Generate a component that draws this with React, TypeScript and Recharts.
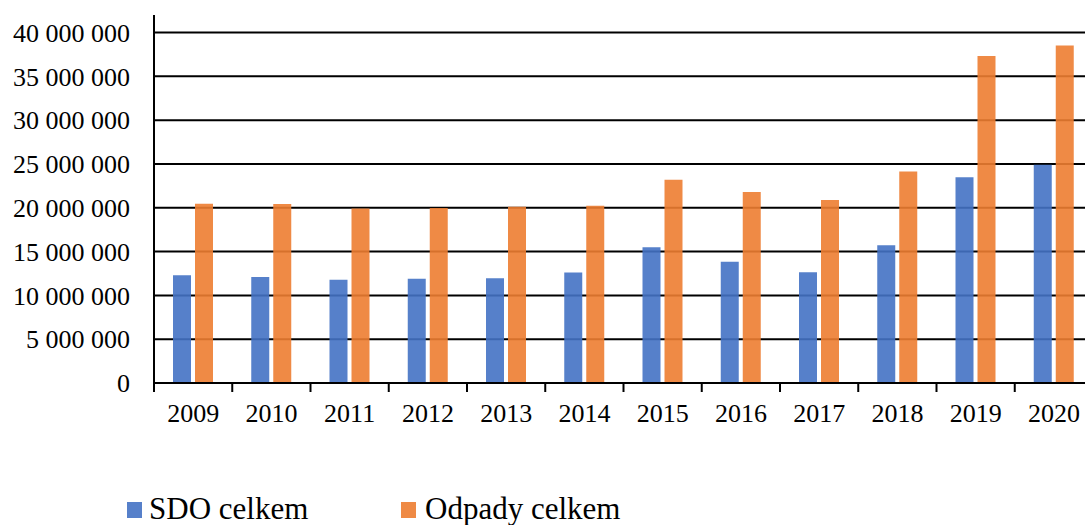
import React from "react";
import {
  BarChart,
  Bar,
  XAxis,
  YAxis,
  CartesianGrid,
  Legend,
} from "recharts";

const years = ["2009", "2010", "2011", "2012", "2013", "2014", "2015", "2016", "2017", "2018", "2019", "2020"];
const sdoCelkem = [12310000, 12110000, 11770000, 11890000, 11960000, 12610000, 15500000, 13830000, 12650000, 15730000, 23470000, 24910000];
const odpadyCelkem = [20460000, 20420000, 19920000, 19960000, 20110000, 20230000, 23200000, 21790000, 20880000, 24150000, 37330000, 38510000];
const yTicks = [0, 5000000, 10000000, 15000000, 20000000, 25000000, 30000000, 35000000, 40000000];

const seriesOrder = ["sdo", "odpady"];
const seriesNames: Record<string, string> = { sdo: "SDO celkem", odpady: "Odpady celkem" };
const colors: Record<string, string> = { sdo: "#4472C4", odpady: "#ED7D31" };

const data = years.map((y, i) => ({ year: y, sdo: sdoCelkem[i], odpady: odpadyCelkem[i] }));

const FONT = "Liberation Serif";

const fmt = (v: number) => String(Math.round(v)).replace(/\B(?=(\d{3})+(?!\d))/g, " ");

// Category tick: label plus boundary tick marks at the band edges (from the band scale's offset)
const CatTick = (props: any) => {
  const { x, y, payload, index, visibleTicksCount } = props;
  const half = payload?.offset ?? 0;
  const axisY = y - 21; // tickMargin back to axis line
  return (
    <g>
      <line x1={x - half} x2={x - half} y1={axisY} y2={axisY + 9} stroke="#000" strokeWidth={2} />
      {index === visibleTicksCount - 1 && (
        <line x1={x + half} x2={x + half} y1={axisY} y2={axisY + 9} stroke="#000" strokeWidth={2} />
      )}
      <text x={x} y={y} dy="0.71em" textAnchor="middle" fill="#000" fontSize={26} fontFamily={FONT}>
        {payload.value}
      </text>
    </g>
  );
};

const LegendContent = () => {
  const lefts = [127, 401];
  return (
    <div style={{ position: "relative", height: 35, width: 1085, fontFamily: FONT }}>
      {seriesOrder.map((k, i) => (
        <div key={k} style={{ position: "absolute", left: lefts[i], top: 0, height: 35 }}>
          <div style={{ position: "absolute", left: 0, top: 12, width: 15, height: 16, background: colors[k], opacity: 0.9 }} />
          <span style={{ position: "absolute", left: i === 0 ? 22 : 24, top: 3, fontSize: 31, lineHeight: "31px", color: "#000", whiteSpace: "nowrap", fontFamily: FONT }}>
            {seriesNames[k]}
          </span>
        </div>
      ))}
    </div>
  );
};

export default function App() {
  return (
    <div style={{ position: "absolute", left: 0, top: 0, width: 1085, height: 525, overflow: "hidden", background: "#fff", fontFamily: FONT }}>
      <BarChart
        width={1093}
        height={525}
        data={data}
        margin={{ top: 15, right: 0, left: 0, bottom: 82 }}
        barSize={18}
        barGap={4}
      >
        <CartesianGrid vertical={false} horizontal={true} syncWithTicks stroke="#000" strokeWidth={2} />
        <XAxis
          dataKey="year"
          height={60}
          axisLine={{ stroke: "#000", strokeWidth: 2 }}
          tickLine={false}
          tickSize={0}
          tickMargin={21}
          interval={0}
          tick={CatTick}
        />
        <YAxis
          width={154}
          domain={[0, 42000000]}
          ticks={yTicks}
          allowDataOverflow
          interval={0}
          tickFormatter={fmt}
          tickLine={false}
          tickSize={0}
          tickMargin={24}
          axisLine={{ stroke: "#000", strokeWidth: 2 }}
          tick={{ fill: "#000", fontSize: 26, fontFamily: FONT }}
        />
        <Legend
          layout="horizontal"
          verticalAlign="middle"
          align="center"
          wrapperStyle={{ position: "absolute", top: 490, left: 0, width: 1085 }}
          content={LegendContent}
        />
        <Bar dataKey="sdo" name={seriesNames.sdo} fill={colors.sdo} fillOpacity={0.9} isAnimationActive={false} />
        <Bar dataKey="odpady" name={seriesNames.odpady} fill={colors.odpady} fillOpacity={0.9} isAnimationActive={false} />
      </BarChart>
    </div>
  );
}
